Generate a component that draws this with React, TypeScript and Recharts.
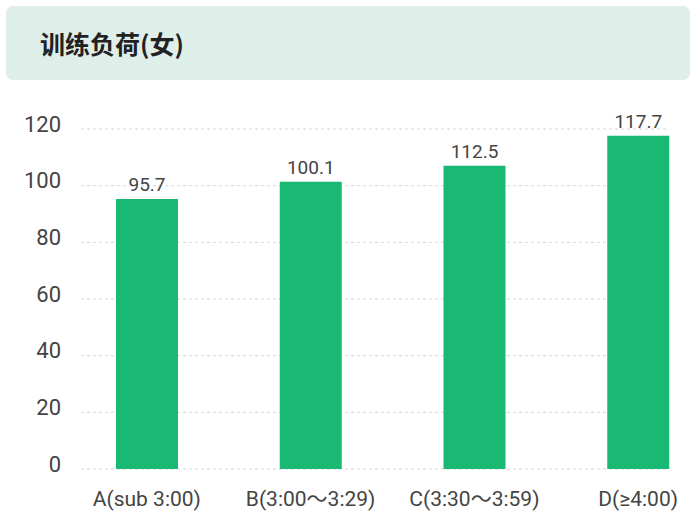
import React from "react";
import { BarChart, Bar, XAxis, YAxis, CartesianGrid, LabelList } from "recharts";

const categories = ["A(sub 3:00)", "B(3:00～3:29)", "C(3:30～3:59)", "D(≥4:00)"];
// bar heights as drawn in the picture
const barValues = [95.3, 101.4, 107.0, 117.6];
// value labels printed above the bars
const valueLabels = ["95.7", "100.1", "112.5", "117.7"];
const yTicks = [0, 20, 40, 60, 80, 100, 120];

const data = categories.map((name, i) => ({
  name,
  value: barValues[i],
  label: valueLabels[i],
}));

const FONT = "Roboto, 'Noto Sans CJK SC', sans-serif";

function YTick(props: any) {
  const { x, y, payload } = props;
  return (
    <text x={x} y={y - 5} dy="0.355em" textAnchor="end" fill="#444" fontSize={22} fontFamily={FONT}>
      {payload.value}
    </text>
  );
}

function XTick(props: any) {
  const { x, y, payload } = props;
  return (
    <text x={x} y={y} dy="0.71em" textAnchor="middle" fill="#444" fontSize={21} fontFamily={FONT}>
      {payload.value}
    </text>
  );
}

export default function App() {
  return (
    <div
      style={{
        position: "fixed",
        left: 0,
        top: 0,
        width: 696,
        height: 532,
        overflow: "hidden",
        background: "#fff",
      }}
    >
      <div
        style={{
          position: "absolute",
          left: 6,
          top: 6,
          width: 684,
          height: 74,
          borderRadius: 7,
          background: "#deeee9",
          display: "flex",
          alignItems: "center",
          paddingLeft: 34,
          boxSizing: "border-box",
          fontFamily: "'Noto Sans CJK SC', sans-serif",
          fontWeight: 700,
          fontSize: 25,
          color: "#222",
        }}
      >
        训练负荷(女)
      </div>
      <div style={{ position: "absolute", left: 0, top: 0 }}>
        <BarChart
          width={740}
          height={532}
          data={data}
          margin={{ top: 129, right: 20, bottom: 23, left: 0 }}
        >
          <CartesianGrid
            x={81}
            width={588}
            vertical={false}
            stroke="#d6d6d6"
            strokeDasharray="3 3"
          />
          <XAxis
            dataKey="name"
            axisLine={false}
            tickLine={false}
            tickSize={0}
            tickMargin={22}
            height={40}
            interval={0}
            tick={<XTick />}
          />
          <YAxis
            domain={[0, 120]}
            ticks={yTicks}
            axisLine={false}
            tickLine={false}
            tickSize={0}
            tickMargin={4}
            width={65}
            interval={0}
            tick={<YTick />}
          />
          <Bar dataKey="value" fill="#1ab973" barSize={62} isAnimationActive={false}>
            <LabelList
              dataKey="label"
              position="top"
              offset={8}
              fill="#444"
              fontSize={19}
              fontFamily={FONT}
            />
          </Bar>
        </BarChart>
      </div>
    </div>
  );
}
